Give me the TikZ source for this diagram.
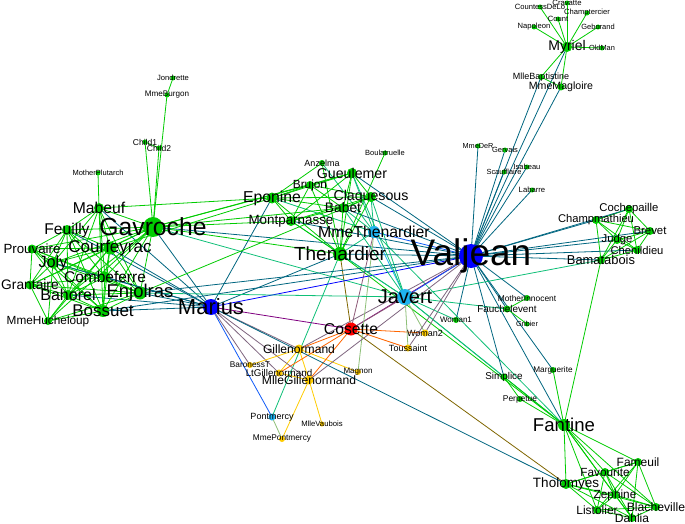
\documentclass[tikz,border=0pt]{standalone}
\usepackage{fontspec}
\setmainfont{Liberation Sans}
\definecolor{ngreen}{RGB}{0,204,0}
\definecolor{nblue}{RGB}{0,0,255}
\definecolor{nlblue}{RGB}{30,180,240}
\definecolor{nred}{RGB}{255,0,0}
\definecolor{nyellow}{RGB}{255,204,0}
\pgfdeclarelayer{bg}
\pgfdeclarelayer{edges}
\pgfdeclarelayer{labels}
\pgfsetlayers{bg,edges,main,labels}
\tikzset{
  dotn/.style={circle, draw=none, inner sep=0pt},
  labn/.style={inner sep=0pt, text=black},
  edge/.style={line width=0.8pt}
}
\newcommand{\nd}[6]{%
  \colorlet{col#1}{#5}%
  \node[dotn, minimum size=#4*2pt, fill=#5] (#1) at (#2,#3) {};%
  \begin{pgfonlayer}{labels}\node[labn, font=\fontsize{#6}{#6}\selectfont] (l#1) at (#2,#3) {#1};\end{pgfonlayer}%
}
\begin{document}
\begin{tikzpicture}[x=1pt,y=-1pt]
\begin{pgfonlayer}{bg}
\fill[white] (0,0) rectangle (685,524);
\end{pgfonlayer}
\useasboundingbox (0,0) rectangle (685,524);
\nd{Myriel}{567}{47}{5}{ngreen}{14}
\nd{Napoleon}{534}{27}{2.5}{ngreen}{7.6}
\nd{MlleBaptistine}{541}{77}{3}{ngreen}{9}
\nd{MmeMagloire}{561}{87}{3.5}{ngreen}{10.6}
\nd{CountessDeLo}{540}{7}{2.5}{ngreen}{7.6}
\nd{Geborand}{598}{27}{2.5}{ngreen}{7.5}
\nd{Champtercier}{587}{13}{2.5}{ngreen}{7.6}
\nd{Cravatte}{567}{3}{2.5}{ngreen}{7.7}
\nd{Count}{558}{19}{2.5}{ngreen}{7.6}
\nd{OldMan}{602}{48}{2.5}{ngreen}{7.4}
\nd{Labarre}{532}{190}{2.5}{ngreen}{7.7}
\nd{Valjean}{471}{256}{12}{nblue}{37}
\nd{Marguerite}{553}{370}{3}{ngreen}{8.2}
\nd{MmeDeR}{478}{146}{2.5}{ngreen}{7.3}
\nd{Isabeau}{527}{167}{2.5}{ngreen}{7.5}
\nd{Gervais}{505}{150}{2.5}{ngreen}{7.5}
\nd{Tholomyes}{566}{484}{5}{ngreen}{13.5}
\nd{Listolier}{597}{510}{4}{ngreen}{12}
\nd{Fameuil}{638}{462}{4}{ngreen}{12}
\nd{Blacheville}{656}{507}{4}{ngreen}{12.2}
\nd{Favourite}{605}{472}{4}{ngreen}{11.8}
\nd{Dahlia}{632}{518}{4}{ngreen}{12}
\nd{Zephine}{615}{495}{4}{ngreen}{11.8}
\nd{Fantine}{564}{425}{6}{ngreen}{18.6}
\nd{MmeThenardier}{374}{232}{6}{nlblue}{15.8}
\nd{Thenardier}{340}{254}{7}{ngreen}{19}
\nd{Cosette}{351}{329}{6.5}{nred}{15.7}
\nd{Javert}{405}{297}{8}{nlblue}{20}
\nd{Fauchelevent}{507}{309}{3.5}{ngreen}{9.9}
\nd{Bamatabois}{601}{260}{4}{ngreen}{12.9}
\nd{Perpetue}{520}{399}{3}{ngreen}{8.4}
\nd{Simplice}{504}{377}{3.5}{ngreen}{9.9}
\nd{Scaufflaire}{504}{172}{2.5}{ngreen}{7.4}
\nd{Woman1}{456}{320}{3}{ngreen}{8}
\nd{Judge}{617}{240}{4}{ngreen}{11.3}
\nd{Champmathieu}{596}{220}{4}{ngreen}{11.2}
\nd{Brevet}{650}{231}{4}{ngreen}{11.4}
\nd{Chenildieu}{637}{250}{4}{ngreen}{11.2}
\nd{Cochepaille}{629}{209}{4}{ngreen}{11.3}
\nd{Pontmercy}{272}{417}{3.5}{nlblue}{9}
\nd{Boulatruelle}{385}{153}{2.5}{ngreen}{7.5}
\nd{Eponine}{272}{198}{5.5}{ngreen}{15.8}
\nd{Anzelma}{322}{163}{3}{ngreen}{9}
\nd{Woman2}{425}{333}{3.5}{nyellow}{9}
\nd{MotherInnocent}{527}{298}{3}{ngreen}{8.4}
\nd{Gribier}{527}{324}{2.5}{ngreen}{7.3}
\nd{Jondrette}{173}{78}{2.5}{ngreen}{7.6}
\nd{MmeBurgon}{167}{95}{2.5}{ngreen}{8.1}
\nd{Gavroche}{153}{227}{10}{ngreen}{24.7}
\nd{Gillenormand}{299}{349}{4.5}{nyellow}{12.1}
\nd{Magnon}{358}{372}{3}{nyellow}{8}
\nd{MlleGillenormand}{309}{380}{4.5}{nyellow}{12.1}
\nd{MmePontmercy}{282}{439}{3}{nyellow}{8.3}
\nd{MlleVaubois}{322}{424}{2.5}{nyellow}{7.7}
\nd{LtGillenormand}{279}{373}{3.5}{nyellow}{9.8}
\nd{Marius}{211}{307}{8}{nblue}{22}
\nd{BaronessT}{250}{365}{3}{nyellow}{8.3}
\nd{Mabeuf}{99}{208}{5}{ngreen}{15.7}
\nd{Enjolras}{140}{293}{6.5}{ngreen}{18.5}
\nd{Combeferre}{105}{277}{5.5}{ngreen}{15.5}
\nd{Prouvaire}{32}{249}{4.5}{ngreen}{13.3}
\nd{Feuilly}{67}{230}{5}{ngreen}{15.6}
\nd{Courfeyrac}{110}{248}{6.5}{ngreen}{17}
\nd{Bahorel}{68}{295}{5}{ngreen}{16}
\nd{Bossuet}{103}{311}{6}{ngreen}{17}
\nd{Joly}{53}{263}{5.5}{ngreen}{16.3}
\nd{Grantaire}{30}{285}{4.5}{ngreen}{13.8}
\nd{MotherPlutarch}{98}{173}{2.5}{ngreen}{7.5}
\nd{Gueulemer}{352}{173}{5}{ngreen}{14.2}
\nd{Babet}{343}{208}{5}{ngreen}{13.8}
\nd{Claquesous}{371}{197}{5}{ngreen}{14.2}
\nd{Montparnasse}{291}{221}{5}{ngreen}{13.4}
\nd{Toussaint}{408}{348}{3.5}{nyellow}{9}
\nd{Child1}{145}{142}{2.5}{ngreen}{8.5}
\nd{Child2}{159}{148}{2.5}{ngreen}{8.5}
\nd{Brujon}{310}{185}{4}{ngreen}{11.8}
\nd{MmeHucheloup}{48}{321}{4}{ngreen}{11.8}
\begin{pgfonlayer}{edges}
\foreach \a/\b in {Napoleon/Myriel, MlleBaptistine/Myriel, MmeMagloire/Myriel, MmeMagloire/MlleBaptistine, CountessDeLo/Myriel, Geborand/Myriel, Champtercier/Myriel, Cravatte/Myriel, Count/Myriel, OldMan/Myriel,
Valjean/Labarre, Valjean/MmeMagloire, Valjean/MlleBaptistine, Valjean/Myriel, Marguerite/Valjean, MmeDeR/Valjean, Isabeau/Valjean, Gervais/Valjean,
Listolier/Tholomyes, Fameuil/Tholomyes, Fameuil/Listolier, Blacheville/Tholomyes, Blacheville/Listolier, Blacheville/Fameuil, Favourite/Tholomyes, Favourite/Listolier, Favourite/Fameuil, Favourite/Blacheville, Dahlia/Tholomyes, Dahlia/Listolier, Dahlia/Fameuil, Dahlia/Blacheville, Dahlia/Favourite, Zephine/Tholomyes, Zephine/Listolier, Zephine/Fameuil, Zephine/Blacheville, Zephine/Favourite, Zephine/Dahlia, Fantine/Tholomyes, Fantine/Listolier, Fantine/Fameuil, Fantine/Blacheville, Fantine/Favourite, Fantine/Dahlia, Fantine/Zephine, Fantine/Marguerite, Fantine/Valjean,
MmeThenardier/Fantine, MmeThenardier/Valjean, Thenardier/MmeThenardier, Thenardier/Fantine, Thenardier/Valjean, Cosette/MmeThenardier, Cosette/Valjean, Cosette/Tholomyes, Cosette/Thenardier, Javert/Valjean, Javert/Fantine, Javert/Thenardier, Javert/MmeThenardier, Javert/Cosette, Fauchelevent/Valjean, Fauchelevent/Javert, Bamatabois/Fantine, Bamatabois/Javert, Bamatabois/Valjean, Perpetue/Fantine, Simplice/Perpetue, Simplice/Valjean, Simplice/Fantine, Simplice/Javert, Scaufflaire/Valjean, Woman1/Valjean, Woman1/Javert, Judge/Valjean, Judge/Bamatabois, Champmathieu/Valjean, Champmathieu/Judge, Champmathieu/Bamatabois, Brevet/Judge, Brevet/Champmathieu, Brevet/Valjean, Brevet/Bamatabois, Chenildieu/Judge, Chenildieu/Champmathieu, Chenildieu/Brevet, Chenildieu/Valjean, Chenildieu/Bamatabois, Cochepaille/Judge, Cochepaille/Champmathieu, Cochepaille/Brevet, Cochepaille/Chenildieu, Cochepaille/Valjean, Cochepaille/Bamatabois,
Pontmercy/Thenardier, Boulatruelle/Thenardier, Eponine/MmeThenardier, Eponine/Thenardier, Anzelma/Eponine, Anzelma/Thenardier, Anzelma/MmeThenardier, Woman2/Valjean, Woman2/Cosette, Woman2/Javert, MotherInnocent/Fauchelevent, MotherInnocent/Valjean, Gribier/Fauchelevent, MmeBurgon/Jondrette, Gavroche/MmeBurgon, Gavroche/Thenardier, Gavroche/Javert, Gavroche/Valjean, Gillenormand/Cosette, Gillenormand/Valjean, Magnon/Gillenormand, Magnon/MmeThenardier, MlleGillenormand/Gillenormand, MlleGillenormand/Cosette, MlleGillenormand/Valjean, MmePontmercy/MlleGillenormand, MmePontmercy/Pontmercy, MlleVaubois/MlleGillenormand, LtGillenormand/MlleGillenormand, LtGillenormand/Gillenormand, LtGillenormand/Cosette,
Marius/MlleGillenormand, Marius/Gillenormand, Marius/Pontmercy, Marius/LtGillenormand, Marius/Cosette, Marius/Valjean, Marius/Tholomyes, Marius/Thenardier, Marius/Eponine, Marius/Gavroche, BaronessT/Gillenormand, BaronessT/Marius, Mabeuf/Marius, Mabeuf/Eponine, Mabeuf/Gavroche, Enjolras/Marius, Enjolras/Gavroche, Enjolras/Javert, Enjolras/Mabeuf, Enjolras/Valjean, Combeferre/Enjolras, Combeferre/Marius, Combeferre/Gavroche, Combeferre/Mabeuf, Prouvaire/Gavroche, Prouvaire/Enjolras, Prouvaire/Combeferre, Feuilly/Gavroche, Feuilly/Enjolras, Feuilly/Prouvaire, Feuilly/Combeferre, Feuilly/Mabeuf, Feuilly/Marius, Courfeyrac/Marius, Courfeyrac/Enjolras, Courfeyrac/Combeferre, Courfeyrac/Gavroche, Courfeyrac/Mabeuf, Courfeyrac/Eponine, Courfeyrac/Feuilly, Courfeyrac/Prouvaire, Bahorel/Combeferre, Bahorel/Gavroche, Bahorel/Courfeyrac, Bahorel/Mabeuf, Bahorel/Enjolras, Bahorel/Feuilly, Bahorel/Prouvaire, Bahorel/Marius, Bossuet/Marius, Bossuet/Courfeyrac, Bossuet/Gavroche, Bossuet/Bahorel, Bossuet/Enjolras, Bossuet/Feuilly, Bossuet/Prouvaire, Bossuet/Combeferre, Bossuet/Mabeuf, Bossuet/Valjean, Joly/Bahorel, Joly/Bossuet, Joly/Gavroche, Joly/Courfeyrac, Joly/Enjolras, Joly/Feuilly, Joly/Prouvaire, Joly/Combeferre, Joly/Mabeuf, Joly/Marius, Grantaire/Bossuet, Grantaire/Enjolras, Grantaire/Combeferre, Grantaire/Courfeyrac, Grantaire/Joly, Grantaire/Gavroche, Grantaire/Bahorel, Grantaire/Feuilly, Grantaire/Prouvaire, MotherPlutarch/Mabeuf, Gueulemer/Thenardier, Gueulemer/Valjean, Gueulemer/MmeThenardier, Gueulemer/Javert, Gueulemer/Gavroche, Gueulemer/Eponine, Babet/Thenardier, Babet/Gueulemer, Babet/Valjean, Babet/MmeThenardier, Babet/Javert, Babet/Gavroche, Babet/Eponine, Claquesous/Thenardier, Claquesous/Babet, Claquesous/Gueulemer, Claquesous/Valjean, Claquesous/MmeThenardier, Claquesous/Javert, Claquesous/Eponine, Claquesous/Enjolras, Montparnasse/Javert, Montparnasse/Babet, Montparnasse/Gueulemer, Montparnasse/Claquesous, Montparnasse/Valjean, Montparnasse/Gavroche, Montparnasse/Eponine, Montparnasse/Thenardier, Toussaint/Cosette, Toussaint/Javert, Toussaint/Valjean, Child1/Gavroche, Child2/Gavroche, Child2/Child1, Brujon/Babet, Brujon/Gueulemer, Brujon/Thenardier, Brujon/Gavroche, Brujon/Eponine, Brujon/Claquesous, Brujon/Montparnasse, MmeHucheloup/Bossuet, MmeHucheloup/Joly, MmeHucheloup/Grantaire, MmeHucheloup/Bahorel, MmeHucheloup/Courfeyrac, MmeHucheloup/Gavroche, MmeHucheloup/Enjolras}
  \draw[edge, draw=col\a!50!col\b] (\a.center) -- (\b.center);
\end{pgfonlayer}
\end{tikzpicture}
\end{document}
